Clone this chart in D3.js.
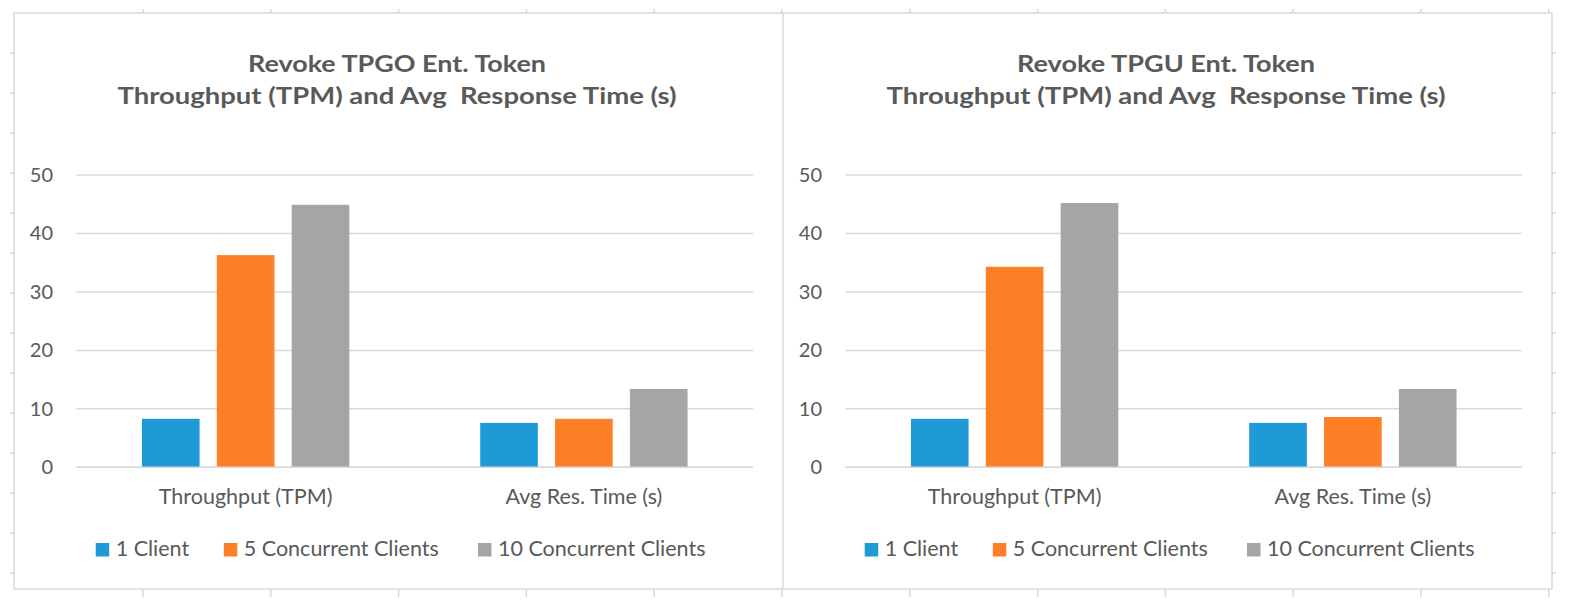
<!DOCTYPE html>
<html lang="en">
<head>
    <meta charset="UTF-8">
    <title>Revoke Ent. Token - Throughput and Avg Response Time</title>
    <script src="https://d3js.org/d3.v7.min.js"></script>
    <style>
        body { margin: 0; background: #fff; }
        text { font-family: Lato, "Open Sans", sans-serif; fill: #595959; }
    </style>
</head>
<body>
    <svg width="1570" height="616"></svg>

    <script>
        // Chart data
        const categories = ["Throughput (TPM)", "Avg Res. Time (s)"];
        const seriesNames = ["1 Client", "5 Concurrent Clients", "10 Concurrent Clients"];
        const seriesColors = ["#1e9bd7", "#fe7f26", "#a5a5a5"];
        const yTicks = [0, 10, 20, 30, 40, 50];

        const tpgoTitle = ["Revoke TPGO Ent. Token", "Throughput (TPM) and Avg  Response Time (s)"];
        const tpgoOneClient = [8.3, 7.6];
        const tpgoFiveClients = [36.3, 8.3];
        const tpgoTenClients = [44.9, 13.4];

        const tpguTitle = ["Revoke TPGU Ent. Token", "Throughput (TPM) and Avg  Response Time (s)"];
        const tpguOneClient = [8.3, 7.6];
        const tpguFiveClients = [34.3, 8.6];
        const tpguTenClients = [45.2, 13.4];

        const svg = d3.select("svg");
        const frameColor = "#d9d9d9";

        // Outer frame (spreadsheet-like border with cell ticks)
        const frame = {left: 14, right: 1552, top: 13, bottom: 589, divider: 783};
        const fg = svg.append("g").attr("stroke", frameColor).attr("stroke-width", 1.5).attr("fill", "none");
        fg.append("rect")
            .attr("x", frame.left).attr("y", frame.top)
            .attr("width", frame.right - frame.left).attr("height", frame.bottom - frame.top);
        fg.append("line")
            .attr("x1", frame.divider).attr("x2", frame.divider)
            .attr("y1", frame.top).attr("y2", frame.bottom);
        const colTicks = d3.range(143, frame.right, 127.8);
        const rowTicks = d3.range(53, frame.bottom, 40);
        fg.selectAll(".tick-top").data(colTicks).enter().append("line")
            .attr("x1", d => d).attr("x2", d => d).attr("y1", frame.top - 4).attr("y2", frame.top);
        fg.selectAll(".tick-bottom").data(colTicks).enter().append("line")
            .attr("x1", d => d).attr("x2", d => d).attr("y1", frame.bottom).attr("y2", frame.bottom + 8);
        fg.selectAll(".tick-left").data(rowTicks).enter().append("line")
            .attr("x1", frame.left - 4).attr("x2", frame.left).attr("y1", d => d).attr("y2", d => d);
        fg.selectAll(".tick-right").data(rowTicks).enter().append("line")
            .attr("x1", frame.right).attr("x2", frame.right + 4).attr("y1", d => d).attr("y2", d => d);

        function drawChart(offsetX, title, oneClient, fiveClients, tenClients) {
            const g = svg.append("g").attr("transform", `translate(${offsetX},0)`);
            const values = [oneClient, fiveClients, tenClients];
            const data = categories.map((c, i) => ({
                category: c,
                bars: seriesNames.map((s, j) => ({series: s, color: seriesColors[j], value: values[j][i]}))
            }));

            // Scales
            const x0 = d3.scaleBand().domain(categories).range([76.5, 753])
                .paddingInner(0.387).paddingOuter(0.1935);
            const x1 = d3.scaleBand().domain(seriesNames).range([0, x0.bandwidth()])
                .paddingInner(0.23).paddingOuter(0);
            const y = d3.scaleLinear().domain([0, 50]).range([467.3, 175]);

            // Title (two lines, stretched to the original's width)
            g.append("text").attr("x", 397).attr("y", 72).attr("text-anchor", "middle")
                .attr("font-size", 22.5).attr("font-weight", "bold")
                .attr("textLength", 298).attr("lengthAdjust", "spacingAndGlyphs")
                .text(title[0]);
            g.append("text").attr("x", 397).attr("y", 104).attr("text-anchor", "middle")
                .attr("font-size", 22.5).attr("font-weight", "bold")
                .attr("textLength", 559).attr("lengthAdjust", "spacingAndGlyphs")
                .attr("xml:space", "preserve").text(title[1]);

            // Gridlines
            g.selectAll(".grid").data(yTicks).enter().append("line")
                .attr("x1", 76.5).attr("x2", 753)
                .attr("y1", d => y(d)).attr("y2", d => y(d))
                .attr("stroke", frameColor).attr("stroke-width", 1.5);

            // Y axis labels
            const yAxis = g.append("g").attr("transform", "translate(76.5,0)")
                .call(d3.axisLeft(y).tickValues(yTicks).tickSize(0).tickPadding(23.5));
            yAxis.select(".domain").remove();
            yAxis.selectAll("text").attr("font-size", 20).attr("font-family", null).style("fill", "#595959");

            // Bars
            const groups = g.selectAll(".group").data(data).enter().append("g")
                .attr("transform", d => `translate(${x0(d.category)},0)`);
            groups.selectAll("rect").data(d => d.bars).enter().append("rect")
                .attr("x", d => x1(d.series))
                .attr("y", d => y(d.value))
                .attr("width", x1.bandwidth())
                .attr("height", d => y(0) - y(d.value))
                .attr("fill", d => d.color);

            // Baseline redrawn over bars
            g.append("line").attr("x1", 76.5).attr("x2", 753).attr("y1", y(0)).attr("y2", y(0))
                .attr("stroke", frameColor).attr("stroke-width", 1.5);

            // Category labels
            const xAxis = g.append("g").attr("transform", `translate(0,${y(0)})`)
                .call(d3.axisBottom(x0).tickSize(0).tickPadding(21));
            xAxis.select(".domain").remove();
            xAxis.selectAll("text").attr("font-size", 21.5).attr("font-family", null).style("fill", "#595959");

            // Legend
            const legendX = [95.7, 223.8, 478];
            const legend = g.selectAll(".legend").data(seriesNames).enter().append("g")
                .attr("transform", (d, i) => `translate(${legendX[i]},543)`);
            legend.append("rect").attr("width", 13.5).attr("height", 13.5)
                .attr("fill", (d, i) => seriesColors[i]);
            legend.append("text").attr("x", 20).attr("y", 13).attr("font-size", 21.5).text(d => d);
        }

        drawChart(0, tpgoTitle, tpgoOneClient, tpgoFiveClients, tpgoTenClients);
        drawChart(769, tpguTitle, tpguOneClient, tpguFiveClients, tpguTenClients);
    </script>
</body>
</html>
